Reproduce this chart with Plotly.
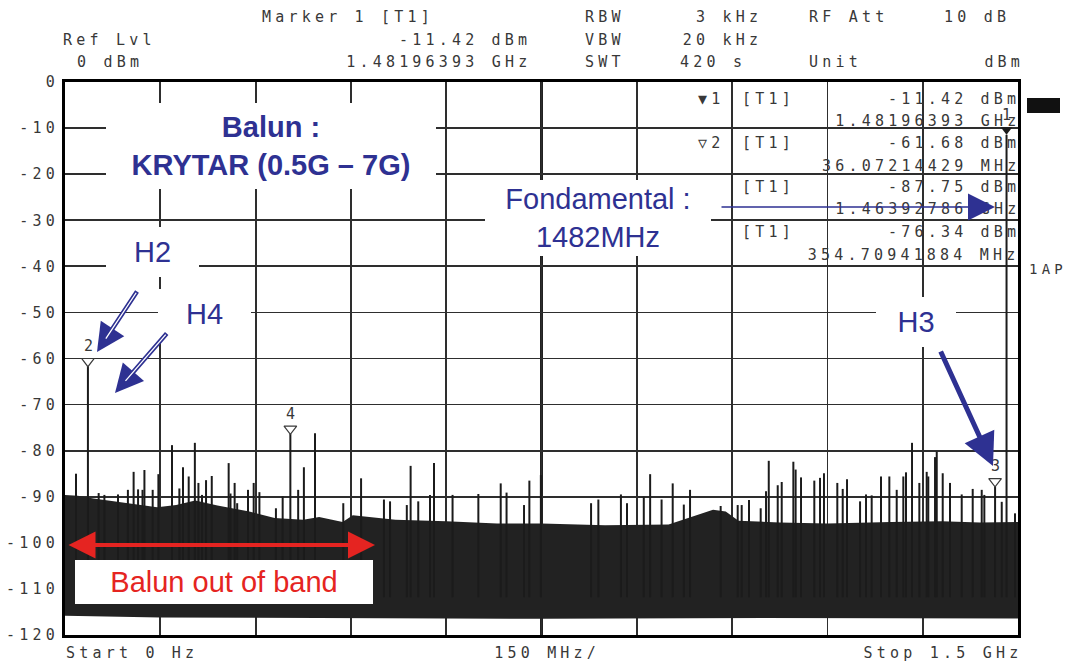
import plotly.graph_objects as go

# ---------------- data ----------------
freq_start_mhz = 0
freq_stop_mhz = 1500
freq_div_mhz = 150
ref_level_dbm = 0
bottom_level_dbm = -120

y_tick_vals = [0, -10, -20, -30, -40, -50, -60, -70, -80, -90, -100, -110, -120]
y_tick_text = ["0", "-10", "-20", "-30", "-40", "-50", "-60", "-70", "-80", "-90", "-100", "-110", "-120"]

# upper / lower envelope of the dense noise floor
noise_top_freq_mhz = [0, 20, 45, 70, 100, 145, 175, 205, 240, 290, 330, 375, 400, 437, 453, 520,
                      600, 680, 750, 850, 950, 1005, 1020, 1040, 1060, 1125, 1200, 1300, 1380, 1440, 1500]
noise_top_dbm = [-89.6, -89.8, -90.4, -90.9, -91.5, -92.3, -91.8, -90.8, -91.9, -93.2, -94.6, -95.0,
                 -94.4, -95.5, -94.0, -95.0, -95.3, -95.8, -95.8, -96.2, -96.0, -93.6, -92.8, -93.2,
                 -95.2, -95.6, -95.8, -95.5, -95.3, -95.6, -95.5]
noise_bottom_freq_mhz = [0, 150, 400, 750, 1100, 1500]
noise_bottom_dbm = [-115.8, -116.2, -116.4, -116.5, -116.3, -116.4]

# discrete spurs above the noise floor
spike_freq_mhz = [17.3, 53, 62, 83.4, 99, 108, 115, 122, 125, 138, 147, 168.4, 180, 185.7, 194.7,
                  204.4, 210, 215.6, 222, 231, 257.6, 260.5, 267, 271, 288, 297, 306, 332, 342.6,
                  367, 376, 393.5, 438, 466, 502, 511.6, 538, 544, 556, 574.5, 580.8, 610, 650.6,
                  685.8, 695, 722.5, 730.9, 749, 828, 839.5, 875, 884.6, 911, 921, 939, 956.5, 974,
                  983.8, 1032, 1058.8, 1065.1, 1076.6, 1095, 1103.4, 1107.7, 1121.8, 1128.1, 1146.4,
                  1150, 1158.5, 1179.4, 1188.4, 1194.6, 1215.6, 1224.1, 1230.9, 1251.4, 1260.8,
                  1269.7, 1284.4, 1297.5, 1309.1, 1319.5, 1323.7, 1333.2, 1344.7, 1356.3, 1358.8,
                  1369.4, 1372.1, 1381.5, 1393, 1411.4, 1428.7, 1442.9, 1447, 1474.4, 1495.3]
spike_level_dbm = [-85.0, -89.2, -89.6, -89.5, -88.5, -84.6, -88.4, -88.5, -84.2, -88.5, -85.1, -78.8,
                   -88.2, -83.6, -85.6, -78.3, -87.0, -89.6, -86.4, -85.5, -82.7, -89.3, -87.0, -91.4,
                   -88.5, -87.0, -89.0, -92.5, -89.9, -88.5, -83.6, -76.2, -91.4, -86.0, -90.6, -91.0,
                   -91.8, -83.3, -91.0, -89.6, -82.7, -89.6, -89.4, -87.1, -89.1, -91.8, -86.5, -85.3,
                   -91.4, -90.6, -89.5, -91.4, -90.0, -85.1, -90.6, -87.1, -91.7, -88.5, -92.0, -91.8,
                   -91.8, -90.7, -92.5, -88.8, -82.2, -87.5, -86.8, -82.4, -84.1, -85.8, -86.5, -85.9,
                   -84.9, -87.0, -88.3, -86.2, -91.0, -89.5, -89.7, -85.6, -85.6, -88.5, -85.6, -84.7,
                   -78.3, -87.0, -84.6, -85.6, -81.4, -80.2, -84.9, -87.0, -89.5, -88.3, -88.5, -89.6,
                   -91.1, -93.6]

# analyzer markers
marker_ids = ["1", "2", "3", "4"]
marker_freq_mhz = [1481.96393, 36.07214429, 1463.92786, 354.70941884]
marker_level_dbm = [-11.42, -61.68, -87.75, -76.34]
marker_symbol_text = ["\u25bc1", "\u25bd2", "", ""]
marker_level_text = ["-11.42 dBm", "-61.68 dBm", "-87.75 dBm", "-76.34 dBm"]
marker_freq_text = ["1.48196393 GHz", "36.07214429 MHz", "1.46392786 GHz", "354.70941884 MHz"]

header_left = [["Marker 1 [T1]"], ["Ref Lvl", "-11.42 dBm"], ["0 dBm", "1.48196393 GHz"]]
header_right = [["RBW", "3 kHz", "RF Att", "10 dB"], ["VBW", "20 kHz"], ["SWT", "420 s", "Unit", "dBm"]]
footer_text = ["Start 0 Hz", "150 MHz/", "Stop 1.5 GHz"]

# ---------------- layout helpers ----------------
W, H = 1071, 662
PL, PR, PT, PB = 65, 1018, 82, 635
MONO = "DejaVu Sans Mono"
SANS = "Liberation Sans, Arial, sans-serif"
TXT = "#383838"
BLUE = "#2E3192"
RED = "#E52421"
LS = 4.2  # letter spacing applied to instrument text


def xp(px):
    return (px - PL) / (PR - PL)


def yp(py):
    return (PB - py) / (PB - PT)


def xd(px):
    return freq_start_mhz + (px - PL) / (PR - PL) * (freq_stop_mhz - freq_start_mhz)


def yd(py):
    return ref_level_dbm + (py - PT) / (PB - PT) * (bottom_level_dbm - ref_level_dbm)


DB_PER_PX = (ref_level_dbm - bottom_level_dbm) / (PB - PT)


def mono(text, px, py, anchor="left", size=15):
    shift = {"left": 0, "right": LS, "center": LS / 2}[anchor]
    return dict(text=text, xref="paper", yref="paper", x=xp(px), y=yp(py), xanchor=anchor,
                yanchor="middle", align=anchor, showarrow=False, xshift=shift,
                borderpad=0, borderwidth=0, font=dict(family=MONO, size=size, color=TXT))


fig = go.Figure()

# noise floor band
fig.add_trace(go.Scatter(
    x=noise_top_freq_mhz + noise_bottom_freq_mhz[::-1],
    y=noise_top_dbm + noise_bottom_dbm[::-1],
    fill="toself", fillcolor="#222222", mode="lines", line=dict(width=0),
    hoverinfo="skip", showlegend=False))

# spurs + marker lines
base = max(noise_bottom_dbm) + 4
sx, sy = [], []
for f, l in zip(spike_freq_mhz + marker_freq_mhz, spike_level_dbm + marker_level_dbm):
    sx += [f, f, None]
    sy += [base, l, None]
fig.add_trace(go.Scatter(x=sx, y=sy, mode="lines", line=dict(color="#1b1b1b", width=2),
                         hoverinfo="skip", showlegend=False))

# marker triangles
off = 5 * DB_PER_PX
fig.add_trace(go.Scatter(
    x=marker_freq_mhz[1:], y=[l + off for l in marker_level_dbm[1:]], mode="markers",
    marker=dict(symbol="triangle-down-open", size=11, color="#3a3a3a", line=dict(width=1.2)),
    hoverinfo="skip", showlegend=False))
fig.add_trace(go.Scatter(
    x=marker_freq_mhz[:1], y=[marker_level_dbm[0] + off], mode="markers",
    marker=dict(symbol="triangle-down", size=10, color="#1b1b1b"),
    hoverinfo="skip", showlegend=False))

ann = []
for mid, f, l in zip(marker_ids, marker_freq_mhz, marker_level_dbm):
    ann.append(dict(text=mid, x=f, y=l, xref="x", yref="y", showarrow=False, yanchor="bottom",
                    xanchor="center", yshift=10, xshift=LS / 2, borderpad=0,
                    font=dict(family=MONO, size=15, color=TXT)))

# header
hdr_rows_y = [17, 40, 62]
ann.append(mono(header_left[0][0], 262, hdr_rows_y[0]))
ann.append(mono(header_left[1][0], 63, hdr_rows_y[1]))
ann.append(mono(header_left[1][1], 527, hdr_rows_y[1], "right"))
ann.append(mono(header_left[2][0], 77, hdr_rows_y[2]))
ann.append(mono(header_left[2][1], 527, hdr_rows_y[2], "right"))
ann.append(mono(header_right[0][0], 585, hdr_rows_y[0]))
ann.append(mono(header_right[0][1], 758, hdr_rows_y[0], "right"))
ann.append(mono(header_right[0][2], 809, hdr_rows_y[0]))
ann.append(mono(header_right[0][3], 1006, hdr_rows_y[0], "right"))
ann.append(mono(header_right[1][0], 585, hdr_rows_y[1]))
ann.append(mono(header_right[1][1], 758, hdr_rows_y[1], "right"))
ann.append(mono(header_right[2][0], 585, hdr_rows_y[2]))
ann.append(mono(header_right[2][1], 680, hdr_rows_y[2]))
ann.append(mono(header_right[2][2], 809, hdr_rows_y[2]))
ann.append(mono(header_right[2][3], 1020, hdr_rows_y[2], "right"))

# marker table
row_y = [99, 121, 143, 166, 187, 209, 232, 255]
for i in range(4):
    y1, y2 = row_y[2 * i], row_y[2 * i + 1]
    if marker_symbol_text[i]:
        ann.append(mono(marker_symbol_text[i], 698, y1))
    ann.append(mono("[T1]", 742, y1))
    ann.append(mono(marker_level_text[i], 1016, y1, "right"))
    ann.append(mono(marker_freq_text[i], 1016, y2, "right"))

ann.append(mono("1AP", 1029, 269, size=14))

# footer
ann.append(mono(footer_text[0], 66, 653))
ann.append(mono(footer_text[1], 545, 653, "center"))
ann.append(mono(footer_text[2], 1018, 653, "right"))


def box(text, cx, cy, w, h, color, size=29):
    return dict(text=text, xref="paper", yref="paper", x=xp(cx), y=yp(cy), xanchor="center",
                yanchor="middle", showarrow=False, bgcolor="white", width=w, height=h,
                borderpad=0, borderwidth=0, align="center", valign="middle",
                font=dict(family=SANS, size=size, color=color))


def arrow(tip, tail, color, width, size, head=2, side="end"):
    return dict(text="", x=xd(tip[0]), y=yd(tip[1]), ax=xd(tail[0]), ay=yd(tail[1]),
                xref="x", yref="y", axref="x", ayref="y", showarrow=True, arrowhead=head,
                startarrowhead=head, arrowside=side, arrowsize=size, startarrowsize=size,
                arrowwidth=width, arrowcolor=color, standoff=0, startstandoff=0)


def hollow_arrow(tip, tail):
    dx, dy = tip[0] - tail[0], tip[1] - tail[1]
    n = (dx * dx + dy * dy) ** 0.5
    ux, uy = dx / n, dy / n
    inner_tip = (tip[0] - 16 * ux, tip[1] - 16 * uy)
    inner_tail = (tail[0] + 1.5 * ux, tail[1] + 1.5 * uy)
    return [arrow(tip, tail, BLUE, 4.5, 1.25),
            arrow(inner_tip, inner_tail, "white", 1.3, 1, head=0)]


# blue / red annotations
ann.append(box("<b>Balun :</b><br><b>KRYTAR (0.5G \u2013 7G)</b>", 271, 146, 330, 86, BLUE))
ann.append(box("H2", 152.5, 252, 93, 50, BLUE))
ann.append(box("H4", 204.5, 314, 93, 50, BLUE))
ann.append(box("H3", 916, 322, 80, 50, BLUE))
ann.append(box("Fondamental :<br>1482MHz", 598, 218, 226, 76, BLUE))
ann.append(box("Balun out of band", 224, 582, 298, 44, RED))

ann += hollow_arrow((97, 352), (138, 290))
ann += hollow_arrow((115, 393), (168, 332))
ann.append(arrow((993, 466), (940, 350), BLUE, 5, 1.3))
ann.append(arrow((995, 207), (720, 207), BLUE, 1.5, 3.6))
ann.append(arrow((375, 545), (67, 545), RED, 4, 1.35, side="end+start"))

axis_common = dict(showgrid=True, gridcolor="#2e2e2e", gridwidth=1.8, zeroline=False,
                   showline=True, mirror=True, linecolor="black", linewidth=3)

fig.update_layout(
    width=W, height=H,
    margin=dict(l=PL, r=W - PR, t=PT, b=H - PB),
    paper_bgcolor="white", plot_bgcolor="white",
    showlegend=False,
    xaxis=dict(range=[freq_start_mhz, freq_stop_mhz], dtick=freq_div_mhz, tick0=freq_start_mhz,
               showticklabels=False, ticks="", **axis_common),
    yaxis=dict(range=[bottom_level_dbm, ref_level_dbm], tickvals=y_tick_vals, ticktext=y_tick_text,
               ticks="", tickfont=dict(family=MONO, size=15, color=TXT), **axis_common),
    annotations=ann,
    shapes=[
        dict(type="line", xref="x", yref="paper",
             x0=(freq_start_mhz + freq_stop_mhz) / 2, x1=(freq_start_mhz + freq_stop_mhz) / 2,
             y0=0, y1=1, line=dict(color="#222222", width=3), layer="below"),
        dict(type="rect", xref="paper", yref="paper", x0=xp(1027), x1=xp(1060), y0=yp(113), y1=yp(98),
             fillcolor="#111111", line=dict(width=0)),
    ],
)

post = """
document.documentElement.style.margin = '0';
document.body.style.margin = '0';
document.body.style.padding = '0';
document.body.style.overflow = 'hidden';
var gd = document.getElementById('{plot_id}');
function spaceIt(){
  gd.querySelectorAll('text').forEach(function(t){
    var ff = (t.style && t.style.fontFamily) || t.getAttribute('font-family') || '';
    if (ff.indexOf('DejaVu Sans Mono') >= 0) { t.style.letterSpacing = '%spx'; }
  });
}
spaceIt();
""" % LS

fig.write_html("out.html", post_script=post, config={"displayModeBar": False, "staticPlot": True})
